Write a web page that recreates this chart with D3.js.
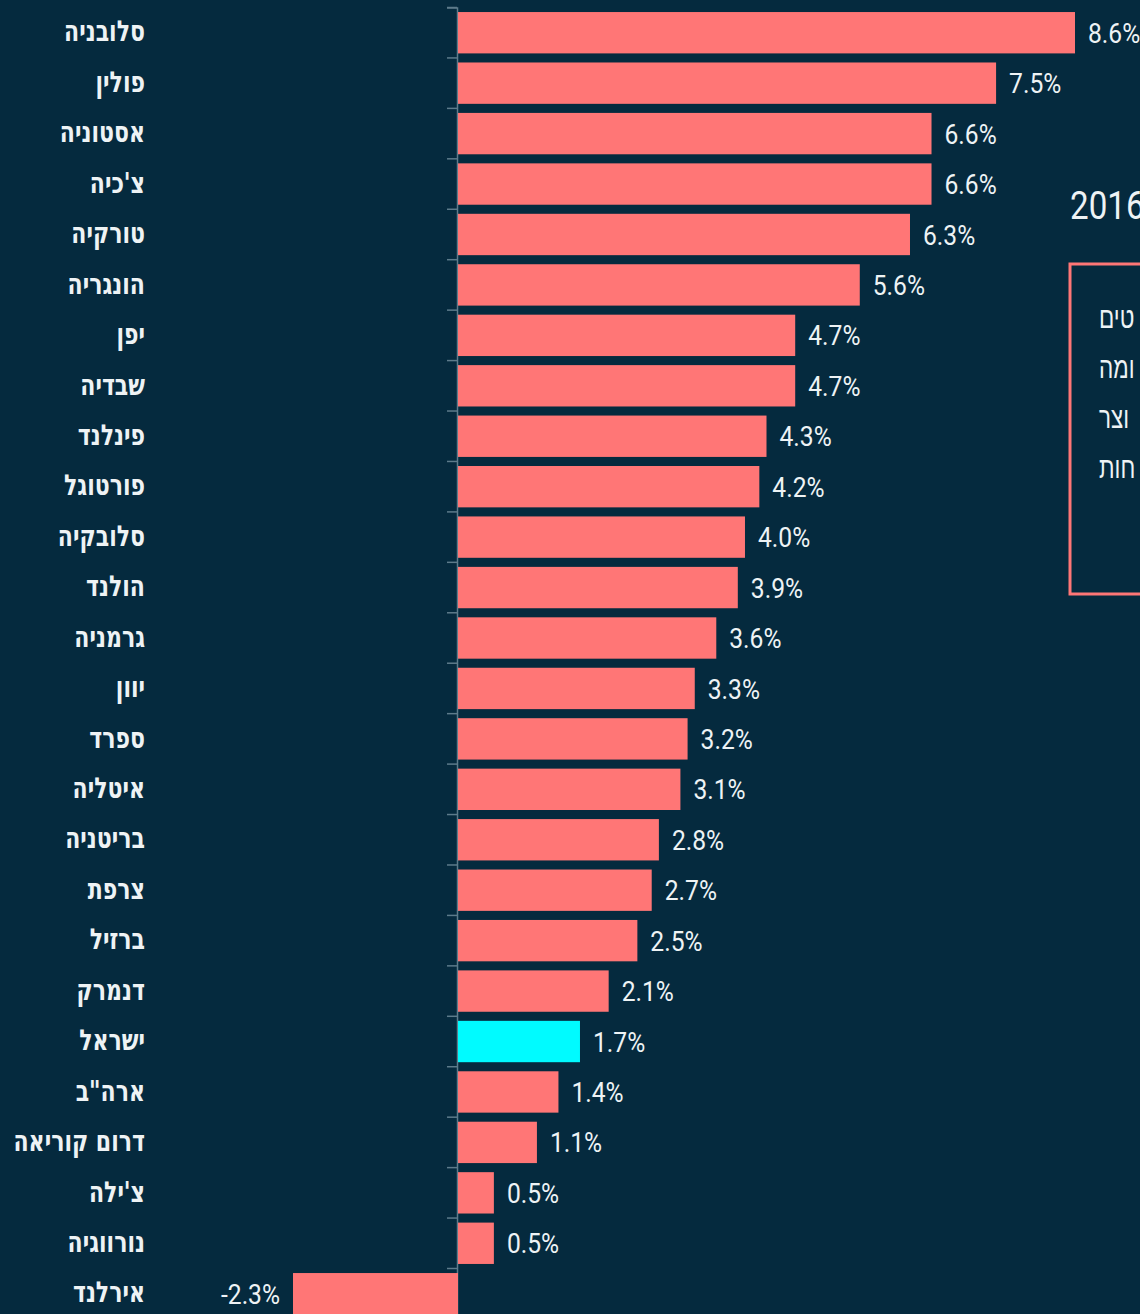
<!DOCTYPE html>
<html>
<head>
<meta charset="utf-8">
<script src="https://cdn.jsdelivr.net/npm/d3@7"></script>
<style>
  body { margin: 0; background: #052a3e; overflow: hidden; }
  .country { fill: #eef3f5; font-family: "DejaVu Sans", "Liberation Sans", sans-serif; font-weight: bold; font-size: 29px; }
  .val { fill: #eef3f5; font-family: Roboto, "Liberation Sans", sans-serif; font-size: 28px; }
  .year { fill: #eef3f5; font-family: Roboto, "Liberation Sans", sans-serif; font-size: 39px; }
  .note { fill: #eef3f5; font-family: "Liberation Sans", "DejaVu Sans", sans-serif; font-size: 30px; }
</style>
</head>
<body>
<div id="chart"></div>
<script>
var countries = ["סלובניה","פולין","אסטוניה","צ'כיה","טורקיה","הונגריה","יפן","שבדיה","פינלנד","פורטוגל",
  "סלובקיה","הולנד","גרמניה","יוון","ספרד","איטליה","בריטניה","צרפת","ברזיל","דנמרק",
  "ישראל","ארה\"ב","דרום קוריאה","צ'ילה","נורווגיה","אירלנד"];
var growth = [8.6,7.5,6.6,6.6,6.3,5.6,4.7,4.7,4.3,4.2,4.0,3.9,3.6,3.3,3.2,3.1,2.8,2.7,2.5,2.1,1.7,1.4,1.1,0.5,0.5,-2.3];
var highlight = "ישראל";
var yearLabel = "2016";
var noteLines = ["טים", "ומה", "וצר", "חות"];

var svg_w = 1140, svg_h = 1314;
var data = countries.map(function(c, i) { return {country: c, value: growth[i]}; });

var svg = d3.select("#chart")
      .append("svg")
      .attr("width", svg_w)
      .attr("height", svg_h);

var xScale = d3.scaleLinear()
      .domain([d3.min(growth), d3.max(growth)])
      .range([293, 1075]);

var yScale = d3.scaleBand()
      .domain(countries)
      .range([7.5, 7.5 + 26 * 50.44])
      .paddingInner(0.18)
      .paddingOuter(0.09);

function midY(d) { return yScale(d.country) + yScale.bandwidth() / 2; }

// axis at zero with ticks between the bars
var yAxis = d3.axisLeft(yScale).tickSize(10).tickFormat("");
var axisG = svg.append("g")
      .attr("transform", "translate(" + (xScale(0) - 1) + ",0)")
      .call(yAxis);
axisG.selectAll(".tick").attr("transform", function(d) {
  return "translate(0," + (yScale(d) - yScale.step() * yScale.paddingInner() / 2) + ")";
});
axisG.selectAll("line, path").attr("stroke", "#5d7b8b").attr("stroke-width", 1.5);

svg.selectAll("rect.bar")
  .data(data)
  .enter()
  .append("rect")
  .attr("class", "bar")
  .attr("x", function(d) { return xScale(Math.min(0, d.value)); })
  .attr("y", function(d) { return yScale(d.country); })
  .attr("width", function(d) { return Math.abs(xScale(d.value) - xScale(0)); })
  .attr("height", yScale.bandwidth())
  .style("fill", function(d) { return d.country == highlight ? "#00fbff" : "#ff7676"; });

// value labels (condensed look via horizontal scale)
svg.selectAll("text.val")
  .data(data)
  .enter()
  .append("text")
  .attr("class", "val")
  .attr("transform", function(d) {
    var x = d.value < 0 ? xScale(d.value) - 13 : xScale(d.value) + 13;
    return "translate(" + x + "," + midY(d) + ") scale(0.88,1)";
  })
  .attr("dy", "0.36em")
  .attr("text-anchor", function(d) { return d.value < 0 ? "end" : "start"; })
  .text(function(d) { return (d.value < 0 ? "-" : "") + Math.abs(d.value).toFixed(1) + "%"; });

svg.selectAll("text.country")
  .data(data)
  .enter()
  .append("text")
  .attr("class", "country")
  .attr("transform", function(d) { return "translate(145," + midY(d) + ") scale(0.76,1)"; })
  .attr("dy", "0.3em")
  .attr("text-anchor", "end")
  .text(function(d) { return d.country; });

// clipped title + note box on the right edge
svg.append("text")
  .attr("class", "year")
  .attr("transform", "translate(1070,219) scale(0.85,1)")
  .text(yearLabel);

svg.append("rect")
  .attr("x", 1070)
  .attr("y", 264)
  .attr("width", 200)
  .attr("height", 330)
  .attr("fill", "none")
  .attr("stroke", "#ff7676")
  .attr("stroke-width", 3);

svg.selectAll("text.note")
  .data(noteLines)
  .enter()
  .append("text")
  .attr("class", "note")
  .attr("transform", function(d, i) { return "translate(1099," + (328 + i * 50) + ") scale(0.75,1)"; })
  .text(function(d) { return d; });
</script>
</body>
</html>
